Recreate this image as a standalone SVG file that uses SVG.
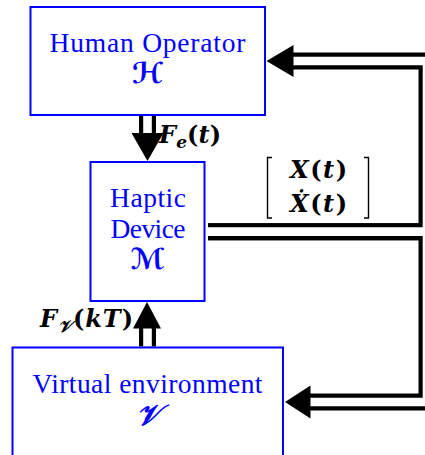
<svg xmlns="http://www.w3.org/2000/svg" width="425" height="455" viewBox="0 0 425 455">
  <defs>
    <style>
      .box { fill: #ffffff; stroke: #0000ff; stroke-width: 2; }
      .lbl { font-family: "Liberation Serif", "DejaVu Serif", serif; font-size: 27.5px; fill: #0000ff; text-anchor: middle; }
      .cal { font-family: "DejaVu Serif", "DejaVu Sans", "Liberation Serif", serif; font-size: 29px; font-weight: bold; font-style: italic; fill: #0000ff; text-anchor: middle; }
      .math { font-family: "DejaVu Serif", "Liberation Serif", serif; font-size: 24px; font-weight: bold; font-style: italic; fill: #000000; }
      .up { font-style: normal; }
      .outer { fill: none; stroke: #000000; stroke-width: 17; stroke-linejoin: miter; }
      .inner { fill: none; stroke: #ffffff; stroke-width: 8.6; stroke-linejoin: miter; }
      .head { fill: #000000; }
      .brk { fill: none; stroke: #000000; stroke-width: 1.4; }
    </style>
  </defs>

  <rect width="425" height="455" fill="#ffffff"/>

  <!-- double-line connectors -->
  <g id="connectors">
    <!-- shafts: black outline first, white core on top -->
    <path class="outer" d="M208 231.75 H427 V61 H293"/>
    <path class="outer" d="M208 231.75 H427 V402 H310"/>
    <path class="outer" d="M147.5 116 V133"/>
    <path class="outer" d="M147.5 346.5 V328"/>
    <path class="inner" d="M208 231.75 H427 V61 H293"/>
    <path class="inner" d="M208 231.75 H427 V402 H310"/>
    <path class="inner" d="M147.5 116 V133.5"/>
    <path class="inner" d="M147.5 346.5 V327.5"/>
    <!-- arrowheads -->
    <polygon class="head" points="266.5,61 293.5,45 293.5,77"/>
    <polygon class="head" points="285,402 310.5,385.5 310.5,418.5"/>
    <polygon class="head" points="147.5,161 131.5,133 163.5,133"/>
    <polygon class="head" points="147,302 133,328.5 161,328.5"/>
  </g>

  <!-- edge labels -->
  <g id="label-fe">
    <text class="math" x="159" y="143" textLength="62">F<tspan font-size="17" dy="5">e</tspan><tspan class="up" dy="-5">(</tspan>t<tspan class="up">)</tspan></text>
  </g>
  <g id="label-fv">
    <text class="math" x="40" y="327" textLength="93">F<tspan font-size="17" dy="5">𝒱</tspan><tspan class="up" dy="-5">(</tspan>kT<tspan class="up">)</tspan></text>
  </g>
  <g id="label-state">
    <path class="brk" d="M272 157.5 H267.5 V218 H272"/>
    <path class="brk" d="M364 157.5 H368.5 V218 H364"/>
    <text class="math" x="290" y="178" textLength="57">X<tspan class="up">(</tspan>t<tspan class="up">)</tspan></text>
    <text class="math" x="290" y="212" textLength="57">Ẋ<tspan class="up">(</tspan>t<tspan class="up">)</tspan></text>
  </g>

  <!-- nodes -->
  <g id="human-operator">
    <rect class="box" x="30.5" y="7" width="234.5" height="108"/>
    <text class="lbl" x="147.5" y="52" textLength="196">Human Operator</text>
    <text class="cal" x="147.5" y="83">ℋ</text>
  </g>

  <g id="haptic-device">
    <rect class="box" x="90.5" y="162" width="114" height="139"/>
    <text class="lbl" x="148" y="207" textLength="76">Haptic</text>
    <text class="lbl" x="148" y="238" textLength="75">Device</text>
    <text class="cal" x="147.5" y="269">ℳ</text>
  </g>

  <g id="virtual-environment">
    <rect class="box" x="12.5" y="347.5" width="270.5" height="120"/>
    <text class="lbl" x="147.5" y="393" textLength="230">Virtual environment</text>
    <text class="cal" x="147.5" y="425">𝒱</text>
  </g>
</svg>
